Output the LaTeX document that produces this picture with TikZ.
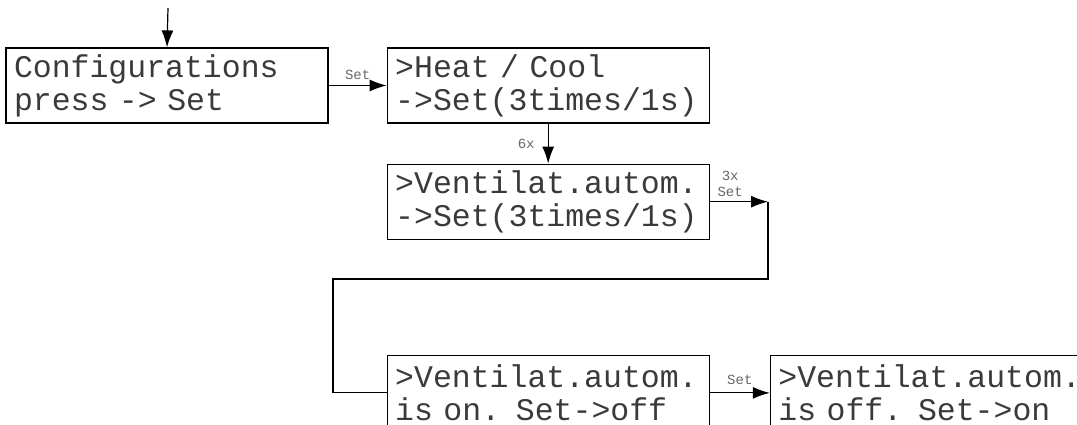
\documentclass[tikz,border=0pt]{standalone}
\usepackage{fontspec}
\setmonofont{Liberation Mono}
\usepackage{tikz}
\usetikzlibrary{positioning,arrows.meta}

\definecolor{txtgray}{HTML}{3A3A3A}
\definecolor{lblgray}{HTML}{666666}

\begin{document}
\begin{tikzpicture}[x=1pt, y=1pt, line width=1.2pt,
  >={Latex[length=17pt,width=12pt]},
  box/.style={draw, rectangle, minimum width=322pt, minimum height=75pt,
    text width=306pt, align=left, inner xsep=8pt, inner ysep=5pt, text=txtgray,
    font=\ttfamily\fontsize{31.5}{33}\selectfont},
  lbl/.style={text=lblgray, font=\ttfamily\fontsize{14}{16}\selectfont, inner sep=1pt}]
\clip (0,0) rectangle (1077,425);

% Menu boxes
\node[box] (config) at (167,339.5) {Configurations\\press -> Set};
\node[box, right=58pt of config] (heat) {>Heat / Cool\\->Set(3times/1s)};
\node[box, below=40pt of heat] (ventset) {>Ventilat.autom.\\->Set(3times/1s)};
\node[box, below=115pt of ventset] (venton) {>Ventilat.autom.\\is on. Set->off};
\node[box, right=60pt of venton] (ventoff) {>Ventilat.autom.\\is off. Set->on};

% Corner points of the return line
\coordinate (start) at (168,417);
\coordinate (c2) at (768,146);
\coordinate (c3) at (333,146);
\coordinate (c1) at (ventset.east -| c2);

% Connections
\draw[->] (start) -- (config.north);
\draw[->] (config) -- node[lbl, above=4pt] {Set} (heat);
\draw[->] (heat) -- node[lbl, left=12pt] {6x} (ventset);
\draw[->] (ventset.east) -- node[lbl, pos=0.35, above=3pt, align=center] {3x\\Set} (c1);
\draw (c1) -- (c2) -- (c3) |- (venton.west);
\draw[->] (venton) -- node[lbl, above=7pt] {Set} (ventoff);

\end{tikzpicture}
\end{document}
